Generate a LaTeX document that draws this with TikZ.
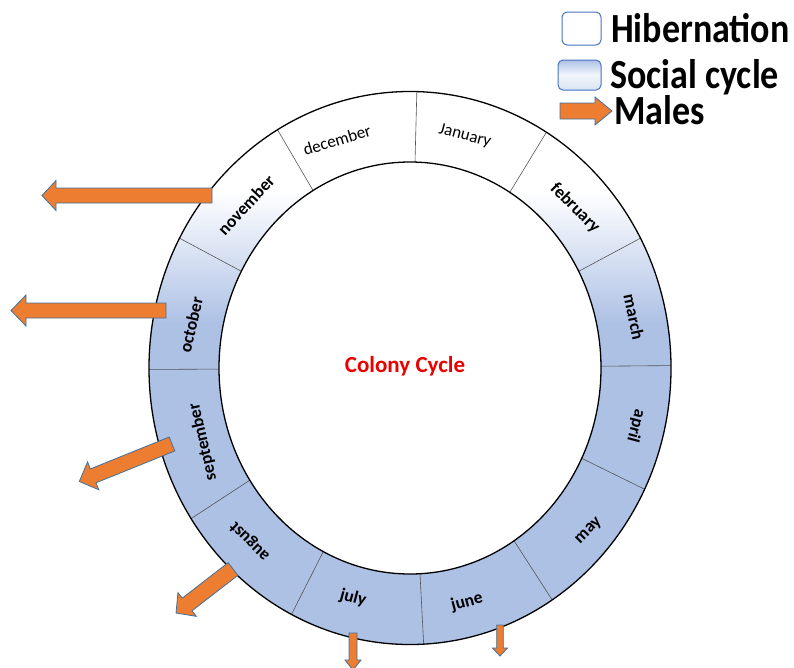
\documentclass[tikz,border=0pt]{standalone}
\usepackage{fontspec}
\setmainfont{Carlito}
\usetikzlibrary{calc}

\definecolor{ringblue}{RGB}{173,193,229}
\definecolor{maleorange}{RGB}{237,125,49}
\definecolor{maleedge}{RGB}{65,113,156}
\definecolor{legendedge}{RGB}{68,114,196}
\definecolor{dividergray}{RGB}{85,85,85}
\definecolor{titlered}{RGB}{235,0,0}

% white at the top of the ring, blue from the middle downwards
\pgfdeclareverticalshading{seasonshade}{100bp}{color(0bp)=(ringblue); color(54bp)=(ringblue); color(66bp)=(white); color(100bp)=(white)}

\tikzset{
  ringline/.style={draw=black, line width=1.3pt},
  divider/.style={draw=dividergray, line width=0.6pt},
  maleshape/.style={fill=maleorange, draw=maleedge, line width=0.8pt, line join=miter},
  monthlabel/.style={inner sep=0pt, text=black},
  legendbox/.style={draw=legendedge, line width=1pt, rounded corners=5pt},
  legendtext/.style={inner sep=0pt, anchor=base west, font=\fontsize{36}{36}\selectfont\bfseries},
}

% block arrow: tail x, tail y, direction, length, shaft half-width, head half-width, head length
\newcommand\malesarrow[7]{%
  \draw[maleshape, shift={(#1,#2)}, rotate=#3]
    (0,-#5) -- ({#4-#7},-#5) -- ({#4-#7},-#6) -- (#4,0) -- ({#4-#7},#6) -- ({#4-#7},#5) -- (0,#5) -- cycle;}

\newcommand\regmonth{\fontsize{17}{17}\selectfont}
\newcommand\boldmonth{\fontsize{17.5}{17.5}\selectfont\bfseries}

\begin{document}
\begin{tikzpicture}[x=1pt, y=-1pt]
\useasboundingbox (0,0) rectangle (794,667);

% ---- the year ring ----
\begin{scope}[shift={(410,368)}, y=1pt]
  \path[shading=seasonshade, even odd rule]
    (0,0) ellipse [x radius=261pt, y radius=276.5pt]
    (0,0) ellipse [x radius=191pt, y radius=206pt];
  \foreach \t in {0.5,28,58.5,88.5,120.5,152,180.3,213,243,273,303,334}
    \draw[divider] (\t:191pt and 206pt) -- (\t:261pt and 276.5pt);
  \draw[ringline] (0,0) ellipse [x radius=261pt, y radius=276.5pt];
  \draw[ringline] (0,0) ellipse [x radius=191pt, y radius=206pt];
\end{scope}

% month names, written along the ring
\foreach \x/\y/\m/\r/\f in {
    465/136/January/-15/\regmonth,
    575/208/february/-45/\boldmonth,
    634/317/march/-78/\boldmonth,
    636/426/april/-105/\boldmonth,
    589/531/may/45/\boldmonth,
    467/602/june/15/\boldmonth,
    353/598/july/-15/\boldmonth,
    250/541/august/135/\boldmonth,
    203/442/september/103/\boldmonth,
    191/325/october/77/\boldmonth,
    246/205/november/47/\boldmonth,
    337/140/december/17/\regmonth}
  \node[monthlabel, rotate=\r, font=\f] (month-\m) at (\x,\y) {\m};

\node[inner sep=0pt, text=titlered, font=\fontsize{23}{23}\selectfont\bfseries] (title) at (405,366) {Colony Cycle};

% ---- males leaving the colony ----
\malesarrow{212}{195.5}{180}{170}{7.5}{15}{14}
\malesarrow{166}{310.5}{180}{155}{7.5}{15.5}{15}
\malesarrow{172}{444}{202}{100}{7.5}{15}{15}
\malesarrow{233}{569}{217.7}{72}{8}{15}{14}
\malesarrow{353}{633}{270}{37}{4}{8}{10}
\malesarrow{500}{625}{270}{31}{3.3}{7.5}{8}

% ---- legend ----
\draw[legendbox, fill=white] (562,12) rectangle (601,45);
\shade[legendbox, top color=ringblue, bottom color=ringblue!45, middle color=white!85!ringblue] (558,60) rectangle (601,90);
\malesarrow{560}{111}{0}{52}{8}{14}{17}

\node[legendtext] (hib) at (611,42) {\scalebox{1}[1.15]{Hibernation}};
\node[legendtext] (soc) at (610,88) {\scalebox{1}[1.15]{Social cycle}};
\node[legendtext] (mal) at (614,124) {\scalebox{1}[1.15]{Males}};
\end{tikzpicture}
\end{document}
